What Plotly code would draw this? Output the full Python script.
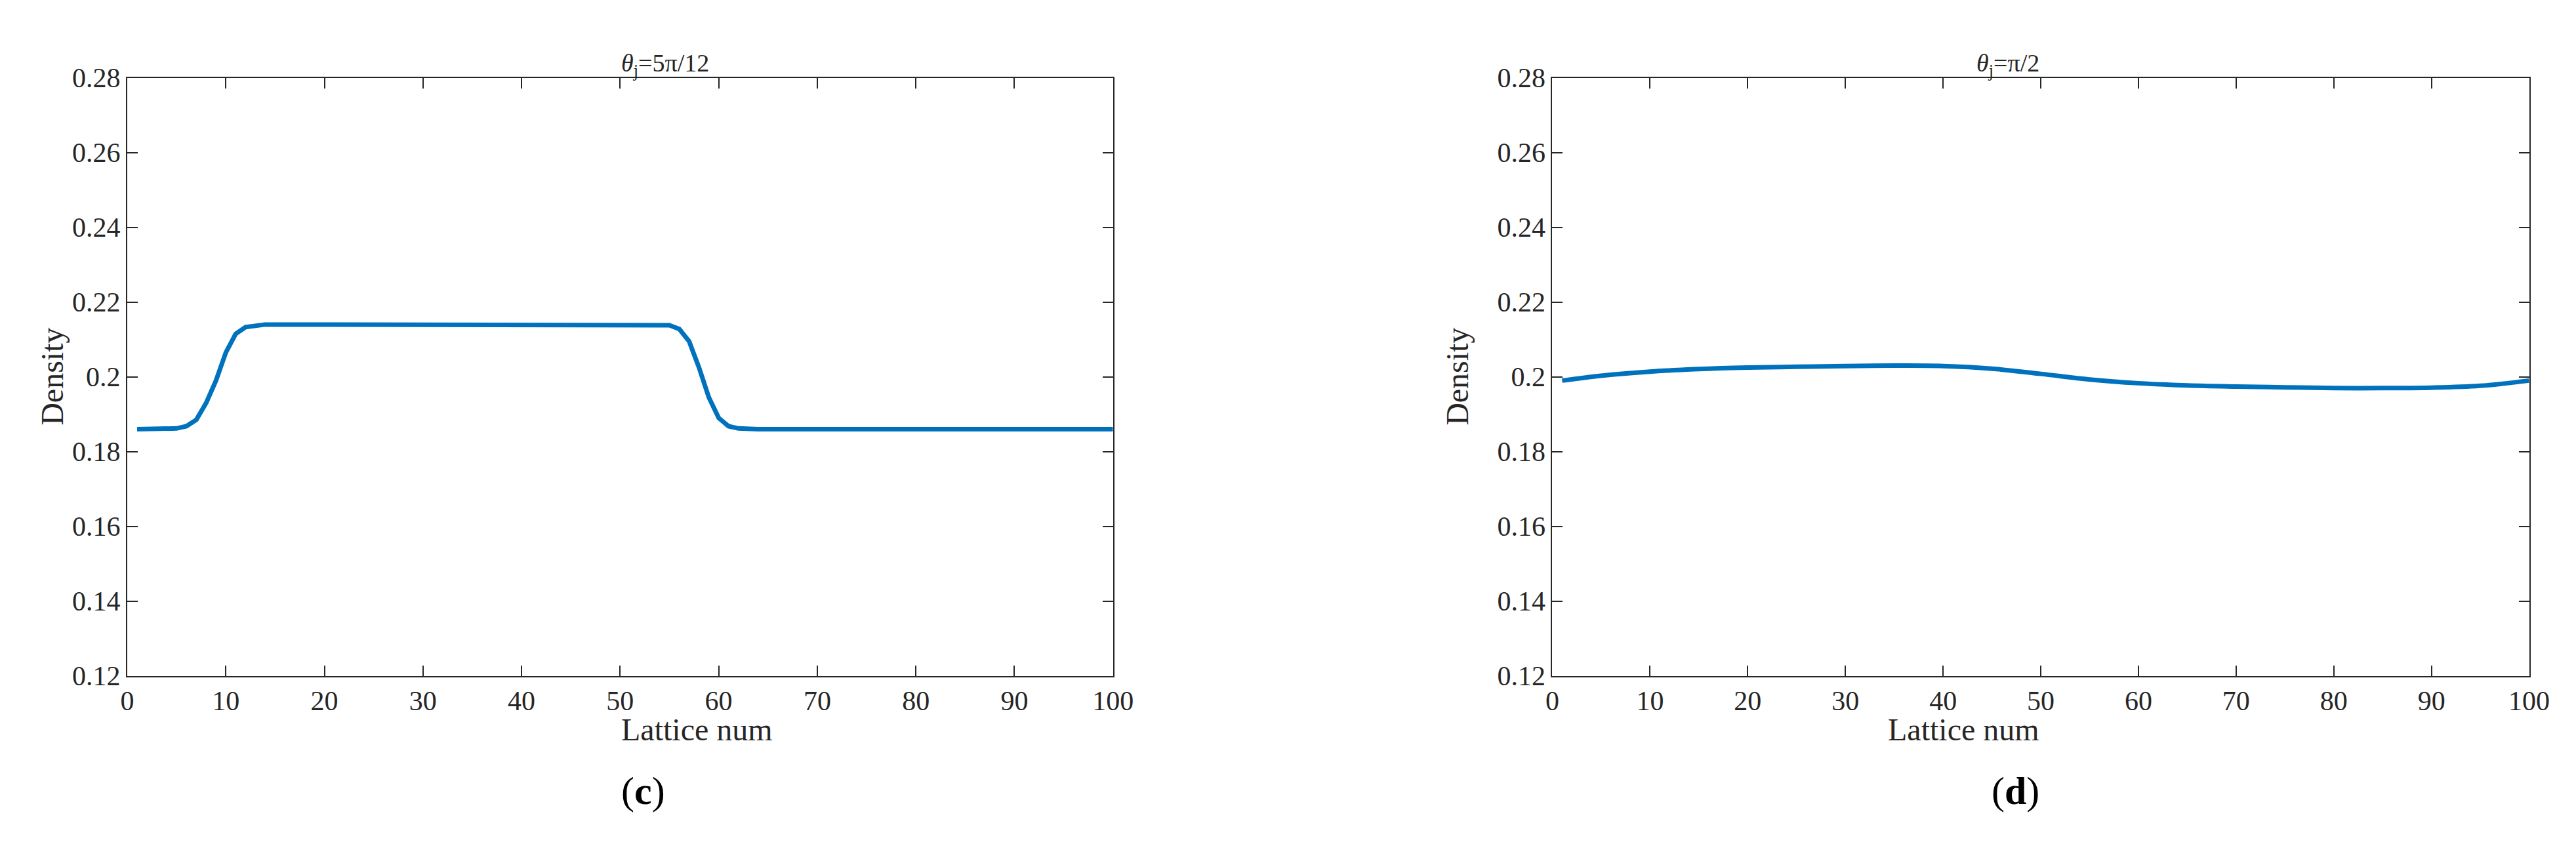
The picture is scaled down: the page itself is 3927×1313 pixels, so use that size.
import plotly.graph_objects as go

lattice = list(range(1, 101))
density_c = ([0.186, 0.186, 0.186, 0.186, 0.1862, 0.1868, 0.1885, 0.193, 0.199, 0.2065,
              0.2115, 0.2133, 0.2138, 0.214] + [0.214] * 40 +
             [0.2138, 0.2128, 0.2095, 0.2025, 0.1945, 0.189, 0.1868, 0.1862, 0.186] + [0.186] * 37)
d_x = [1, 5, 10, 15, 20, 25, 30, 35, 40, 45, 50, 55, 60, 65, 70, 75, 80, 85, 90, 95, 100]
d_y = [0.199, 0.2003, 0.2014, 0.2021, 0.2025, 0.2027, 0.2029, 0.203, 0.2029, 0.2022, 0.2008,
       0.1993, 0.1983, 0.1977, 0.1974, 0.1972, 0.197, 0.197, 0.1971, 0.1976, 0.199]
titles = ["<i>θ</i><sub>j</sub>=5π/12", "<i>θ</i><sub>j</sub>=π/2"]
panel_labels = ["(<b>c</b>)", "(<b>d</b>)"]
x_ticks = list(range(0, 101, 10))
y_ticks = [0.12, 0.14, 0.16, 0.18, 0.2, 0.22, 0.24, 0.26, 0.28]
y_tick_text = ["0.12", "0.14", "0.16", "0.18", "0.2", "0.22", "0.24", "0.26", "0.28"]

font = "Liberation Serif"
fig = go.Figure()
fig.add_trace(go.Scatter(x=lattice, y=density_c, mode="lines", line=dict(color="#0072BD", width=7), xaxis="x", yaxis="y"))
fig.add_trace(go.Scatter(x=d_x, y=d_y, mode="lines", line=dict(color="#0072BD", width=7, shape="spline"), xaxis="x2", yaxis="y2"))

ax = dict(showgrid=False, zeroline=False, showline=True, mirror="ticks", linecolor="#262626", linewidth=2,
          ticks="inside", ticklen=16, tickwidth=2, tickcolor="#262626",
          tickfont=dict(family=font, size=42, color="#262626"))
ydom = [0.2102, 0.930]
fig.update_layout(
    width=3927, height=1313, margin=dict(l=0, r=0, t=0, b=0),
    paper_bgcolor="white", plot_bgcolor="white", showlegend=False,
    xaxis=dict(ax, domain=[0.0453, 0.4321], range=[0, 100], tickvals=x_ticks, anchor="y"),
    yaxis=dict(ax, domain=ydom, range=[0.12, 0.28], tickvals=y_ticks, ticktext=y_tick_text, anchor="x"),
    xaxis2=dict(ax, domain=[0.6045, 0.9878], range=[0, 100], tickvals=x_ticks, anchor="y2"),
    yaxis2=dict(ax, domain=ydom, range=[0.12, 0.28], tickvals=y_ticks, ticktext=y_tick_text, anchor="x2"),
)
ann = []
for i, (x0, x1, dx) in enumerate([(0.0453, 0.4321, 34), (0.6045, 0.9878, 2228)]):
    xc = (x0 + x1) / 2
    ann.append(dict(x=xc, y=0.966, xref="paper", yref="paper", text=titles[i], showarrow=False,
                    font=dict(family=font, size=38, color="#262626")))
    ann.append(dict(x=xc, y=0.123, xref="paper", yref="paper", text="Lattice num", showarrow=False,
                    font=dict(family=font, size=48, color="#262626")))
    ann.append(dict(x=xc, y=0.044, xref="paper", yref="paper", text=panel_labels[i], showarrow=False,
                    font=dict(family=font, size=60, color="black")))
    ann.append(dict(x=dx / 3927, y=(ydom[0] + ydom[1]) / 2, xref="paper", yref="paper", text="Density",
                    showarrow=False, textangle=-90, font=dict(family=font, size=48, color="#262626")))
fig.update_layout(annotations=ann)
fig.write_html("out.html")
